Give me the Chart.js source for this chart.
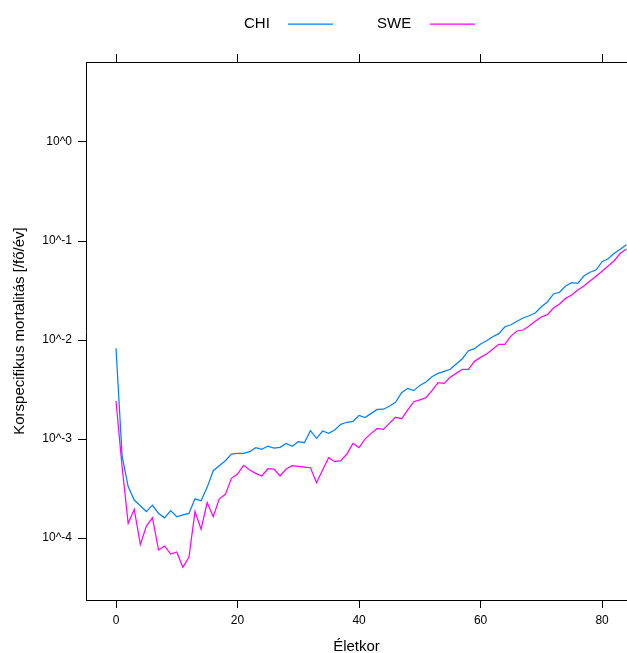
<!DOCTYPE html>
<html>
<head>
<meta charset="utf-8">
<script src="https://cdn.jsdelivr.net/npm/chart.js@4.4.0/dist/chart.umd.min.js"></script>
<style>
  body { margin: 0; background: #fff; }
  #wrap { width: 627px; height: 653px; }
</style>
</head>
<body>
<div id="wrap"><canvas id="mortChart" width="627" height="653"></canvas></div>
<script>
// ages 0..84
const ages = [];
for (let a = 0; a <= 84; a++) ages.push(a);

const seriesNames = ["CHI", "SWE"];
const seriesColors = ["#0080ff", "#ff00ff"];

const chi = [
  0.00824, 0.000676, 0.000331, 0.000242, 0.000212, 0.000185, 0.000215, 0.000177, 0.000160, 0.000189,
  0.000164, 0.000171, 0.000177, 0.000249, 0.000238, 0.000325, 0.000479, 0.000537, 0.000604, 0.000705,
  0.000715, 0.000716, 0.000745, 0.000817, 0.000787, 0.000849, 0.000811, 0.000824, 0.000904, 0.000843,
  0.000940, 0.000918, 0.001213, 0.001016, 0.001205, 0.001140, 0.001233, 0.001406, 0.001476, 0.001510,
  0.001734, 0.001648, 0.001816, 0.00199, 0.00200, 0.00214, 0.00235, 0.00294, 0.00325, 0.00308,
  0.00348, 0.00377, 0.00426, 0.00460, 0.00483, 0.00506, 0.00573, 0.00647, 0.00780, 0.00817,
  0.00912, 0.00984, 0.01079, 0.01159, 0.01361, 0.01426, 0.01545, 0.01667, 0.01758, 0.01875,
  0.02168, 0.02421, 0.02917, 0.03034, 0.03508, 0.03793, 0.03733, 0.04426, 0.04831, 0.05093,
  0.06180, 0.06622, 0.07516, 0.08241, 0.09183
];

const swe = [
  0.00242, 0.000525, 0.000141, 0.000195, 0.0000863, 0.000132, 0.000160, 0.0000757, 0.0000830, 0.0000689,
  0.0000723, 0.0000506, 0.0000638, 0.000185, 0.000123, 0.000228, 0.000164, 0.000249, 0.000276, 0.000401,
  0.000443, 0.000542, 0.000486, 0.000450, 0.000423, 0.000501, 0.000498, 0.000423, 0.000498, 0.000537,
  0.000530, 0.000521, 0.000513, 0.000362, 0.000486, 0.000647, 0.000590, 0.000604, 0.000705, 0.000904,
  0.000820, 0.001005, 0.00114, 0.00128, 0.00125, 0.00144, 0.00166, 0.00160, 0.00196, 0.00238,
  0.00248, 0.00261, 0.00308, 0.00371, 0.00365, 0.00420, 0.00460, 0.00506, 0.00506, 0.00610,
  0.00668, 0.00723, 0.00805, 0.00906, 0.00906, 0.01096, 0.01233, 0.01262, 0.01384, 0.01545,
  0.01706, 0.01803, 0.02104, 0.02312, 0.02636, 0.02851, 0.03199, 0.03508, 0.03945, 0.04395,
  0.04943, 0.05585, 0.06324, 0.07516, 0.08299
];

const xTicks = [0, 20, 40, 60, 80];
const yTicks = [1e-4, 1e-3, 1e-2, 1e-1, 1];
const yTickLabels = ["10^-4", "10^-3", "10^-2", "10^-1", "10^0"];

const FONT = "'Liberation Sans', Arial, sans-serif";

// lattice style legend on top: text first, then the line sample
const topLegend = {
  id: "topLegend",
  afterDraw(chart) {
    const ctx = chart.ctx;
    const spots = [{ tx: 244, lx: 288 }, { tx: 377, lx: 430 }];
    ctx.save();
    ctx.font = "15px " + FONT;
    ctx.textBaseline = "middle";
    ctx.textAlign = "left";
    chart.data.datasets.forEach((ds, i) => {
      const s = spots[i];
      ctx.fillStyle = "#000";
      ctx.fillText(ds.label, s.tx, 24);
      ctx.strokeStyle = ds.borderColor;
      ctx.lineWidth = 1.25;
      ctx.beginPath();
      ctx.moveTo(s.lx, 24);
      ctx.lineTo(s.lx + 45, 24);
      ctx.stroke();
    });
    ctx.restore();
  }
};

const tickMarks = { drawOnChartArea: false, drawTicks: true, tickLength: 8, color: "#000" };
const frame = { display: true, color: "#000", width: 1 };

const ctx = document.getElementById("mortChart").getContext("2d");
new Chart(ctx, {
  type: "line",
  data: {
    labels: ages,
    datasets: [
      { label: seriesNames[0], data: ages.map((a, i) => ({ x: a, y: chi[i] })), borderColor: seriesColors[0] },
      { label: seriesNames[1], data: ages.map((a, i) => ({ x: a, y: swe[i] })), borderColor: seriesColors[1] }
    ]
  },
  options: {
    responsive: false,
    animation: false,
    layout: { padding: 0 },
    elements: {
      point: { radius: 0 },
      line: { borderWidth: 1.25, tension: 0, fill: false }
    },
    plugins: {
      legend: { display: false },
      tooltip: { enabled: false }
    },
    scales: {
      x: {
        type: "linear",
        position: "bottom",
        min: -4.94,
        max: 84.1,
        afterBuildTicks: (s) => { s.ticks = xTicks.map(v => ({ value: v })); },
        afterFit: (s) => { s.height = 53; },
        grid: tickMarks,
        border: frame,
        ticks: { color: "#000", font: { family: FONT, size: 12 }, padding: 5, maxRotation: 0 },
        title: {
          display: true,
          text: "Életkor",
          color: "#000",
          font: { family: FONT, size: 15 },
          padding: { top: 0, bottom: -3 }
        }
      },
      xTop: {
        type: "linear",
        position: "top",
        min: -4.94,
        max: 84.1,
        afterBuildTicks: (s) => { s.ticks = xTicks.map(v => ({ value: v })); },
        afterFit: (s) => { s.height = 62; },
        grid: tickMarks,
        border: frame,
        ticks: { display: false }
      },
      y: {
        type: "logarithmic",
        position: "left",
        min: Math.pow(10, -4.626),
        max: Math.pow(10, 0.808),
        afterBuildTicks: (s) => { s.ticks = yTicks.map(v => ({ value: v })); },
        afterFit: (s) => { s.width = 86; },
        grid: tickMarks,
        border: frame,
        ticks: {
          color: "#000",
          font: { family: FONT, size: 12 },
          padding: 6,
          callback: (v, i) => yTickLabels[i]
        },
        title: {
          display: true,
          text: "Korspecifikus mortalitás [/fő/év]",
          color: "#000",
          font: { family: FONT, size: 15 },
          padding: { top: 11, bottom: 0 }
        }
      }
    }
  },
  plugins: [topLegend]
});
</script>
</body>
</html>
